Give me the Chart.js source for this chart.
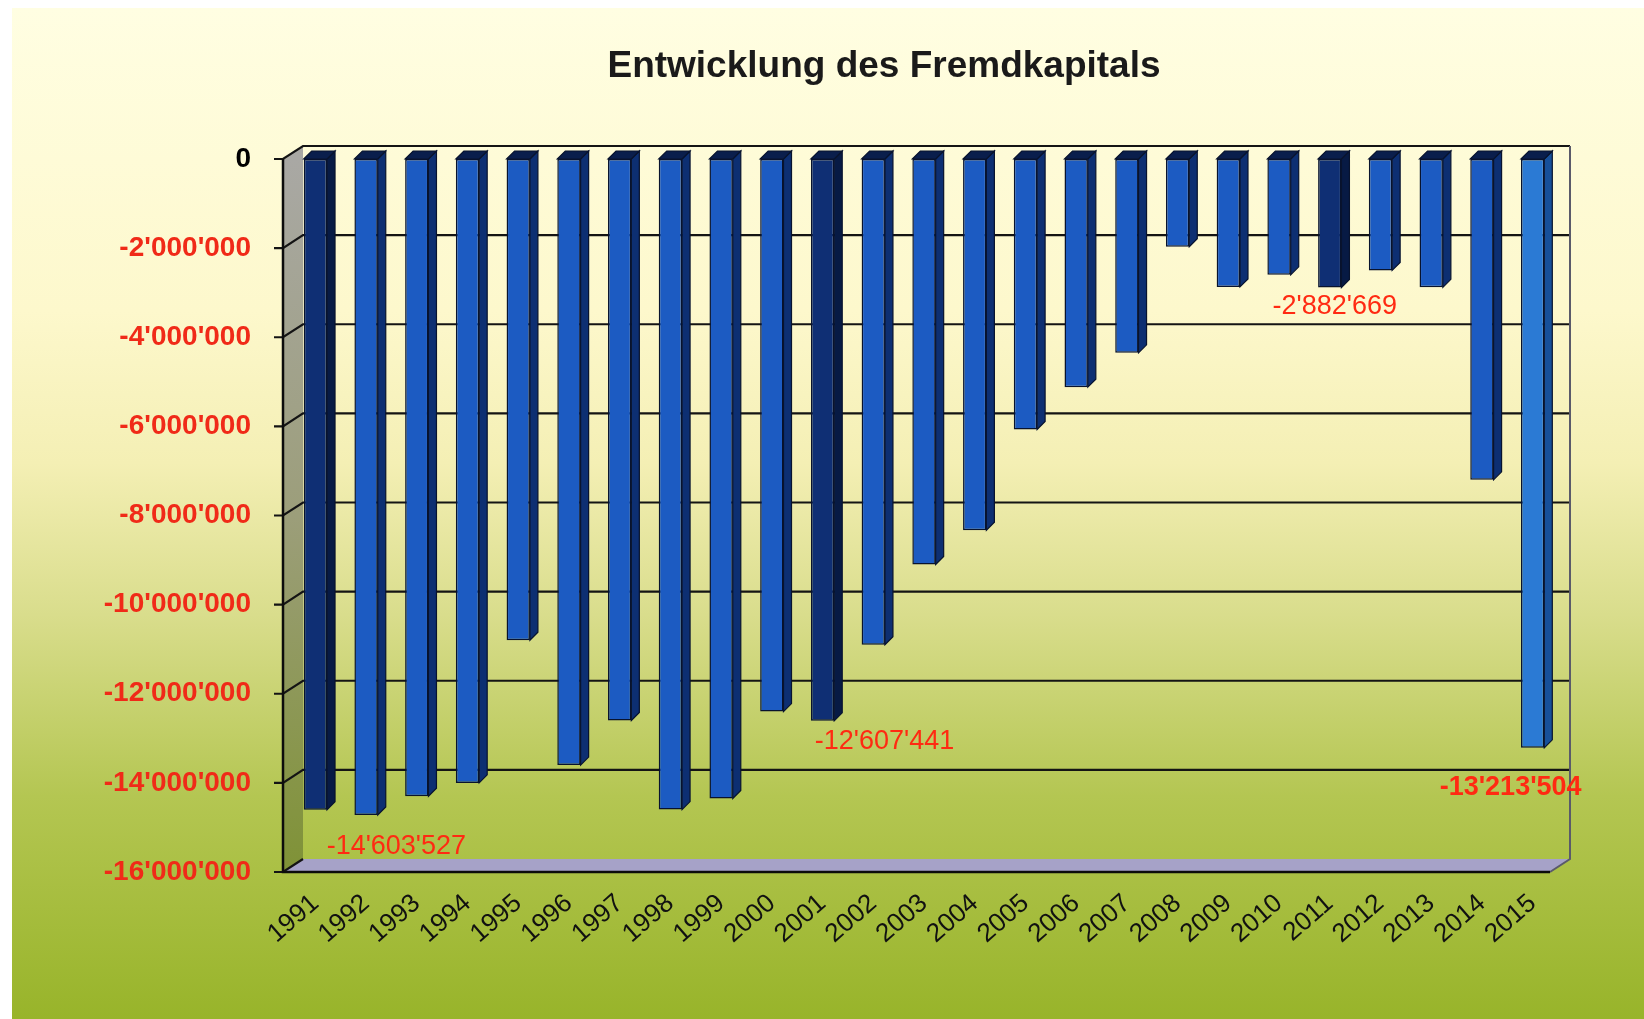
<!DOCTYPE html>
<html lang="de">
<head>
    <meta charset="UTF-8">
    <title>Entwicklung des Fremdkapitals</title>
    <script src="https://cdn.jsdelivr.net/npm/chart.js"></script>
    <style>
        body {
            margin: 0;
            background: #ffffff;
        }
        canvas {
            display: block;
        }
    </style>
</head>
<body>

    <canvas id="fkChart" width="1644" height="1019"></canvas>

    <script>
        // Data
        const years = ["1991", "1992", "1993", "1994", "1995", "1996", "1997", "1998", "1999", "2000",
                       "2001", "2002", "2003", "2004", "2005", "2006", "2007", "2008", "2009", "2010",
                       "2011", "2012", "2013", "2014", "2015"];
        const fremdkapital = [-14603527, -14720000, -14300000, -14000000, -10800000, -13600000, -12600000,
                              -14600000, -14350000, -12400000, -12607441, -10900000, -9100000, -8330000,
                              -6070000, -5120000, -4350000, -1970000, -2870000, -2600000, -2882669,
                              -2500000, -2880000, -7200000, -13213504];
        const highlighted = [0, 10, 20];      // dark bars
        const labelled = [0, 10, 20, 24];     // bars with a value label
        const yMin = -16000000;
        const yMax = 0;
        const yStep = 2000000;
        const chartTitle = "Entwicklung des Fremdkapitals";

        const FONT = "'Liberation Sans', Arial, sans-serif";

        function fmt(v) {
            const s = Math.abs(Math.round(v)).toString().replace(/\B(?=(\d{3})+(?!\d))/g, "'");
            return (v < 0 ? "-" : "") + s;
        }

        const barColors = fremdkapital.map((v, i) => {
            if (highlighted.includes(i)) return "#0f2f74";
            if (i === years.length - 1) return "#2b7ad4";
            return "#1c5bc2";
        });
        const sideColors = fremdkapital.map((v, i) => {
            if (highlighted.includes(i)) return "#071a44";
            if (i === years.length - 1) return "#17509a";
            return "#0d2f72";
        });

        // 3D-ish geometry
        const DX = 20, DY = 13;

        const backgroundPlugin = {
            id: "bg",
            beforeDraw(chart) {
                const ctx = chart.ctx;
                const w = chart.width, h = chart.height;
                ctx.save();
                ctx.fillStyle = "#ffffff";
                ctx.fillRect(0, 0, w, h);
                const g = ctx.createLinearGradient(0, 8, 0, h);
                g.addColorStop(0, "#fffee2");
                g.addColorStop(0.3, "#fdf8cc");
                g.addColorStop(0.45, "#f4efb4");
                g.addColorStop(0.6, "#d9dd8c");
                g.addColorStop(0.78, "#b4c652");
                g.addColorStop(1, "#98b42a");
                ctx.fillStyle = g;
                ctx.fillRect(12, 8, w - 12, h - 8);

                // title, centred over the picture as in the original
                ctx.fillStyle = "#1a1a1a";
                ctx.font = "bold 37px " + FONT;
                ctx.textAlign = "center";
                ctx.textBaseline = "middle";
                ctx.fillText(chartTitle, 884, 67);
                ctx.restore();
            }
        };

        const framePlugin = {
            id: "frame",
            beforeDatasetsDraw(chart) {
                const ctx = chart.ctx;
                const a = chart.chartArea;
                const y = chart.scales.y;
                const fx = a.left - 7;           // front axis x
                const bx = fx + DX;              // back wall x
                const rx = a.right + 12;         // back wall right
                const y0 = y.getPixelForValue(yMax);
                const yb = y.getPixelForValue(yMin);
                ctx.save();

                // left side wall
                const wg = ctx.createLinearGradient(0, y0, 0, yb);
                wg.addColorStop(0, "#a9a8a4");
                wg.addColorStop(0.5, "#9c9e7a");
                wg.addColorStop(1, "#7f9236");
                ctx.fillStyle = wg;
                ctx.beginPath();
                ctx.moveTo(fx, y0);
                ctx.lineTo(bx, y0 - DY);
                ctx.lineTo(bx, yb - DY);
                ctx.lineTo(fx, yb);
                ctx.closePath();
                ctx.fill();

                // floor
                ctx.fillStyle = "#a6a2c8";
                ctx.beginPath();
                ctx.moveTo(fx, yb);
                ctx.lineTo(bx, yb - DY);
                ctx.lineTo(rx, yb - DY);
                ctx.lineTo(rx - DX, yb);
                ctx.closePath();
                ctx.fill();

                // grid lines on back wall + diagonal on side wall + tick marks
                ctx.strokeStyle = "#141414";
                ctx.lineWidth = 2.2;
                y.ticks.forEach(t => {
                    const py = y.getPixelForValue(t.value);
                    ctx.beginPath();
                    ctx.moveTo(fx - 9, py);
                    ctx.lineTo(fx, py);
                    ctx.lineTo(bx, py - DY);
                    if (t.value !== yMin) ctx.lineTo(rx, py - DY);
                    ctx.stroke();
                });

                // right edge of back wall
                ctx.strokeStyle = "#5a5a6a";
                ctx.lineWidth = 2;
                ctx.beginPath();
                ctx.moveTo(rx, y0 - DY);
                ctx.lineTo(rx, yb - DY);
                ctx.lineTo(rx - DX, yb);
                ctx.stroke();

                // front axis and floor edge
                ctx.strokeStyle = "#0c0c0c";
                ctx.lineWidth = 2.5;
                ctx.beginPath();
                ctx.moveTo(fx, y0);
                ctx.lineTo(fx, yb);
                ctx.lineTo(rx - DX, yb);
                ctx.stroke();
                ctx.restore();
            },
            afterDatasetsDraw(chart) {
                const ctx = chart.ctx;
                const meta = chart.getDatasetMeta(0);
                const d = 8;
                ctx.save();
                ctx.strokeStyle = "#08132e";
                ctx.lineWidth = 1.2;
                meta.data.forEach((bar, i) => {
                    const half = bar.width / 2;
                    const xl = bar.x - half, xr = bar.x + half;
                    const top = bar.base, bot = bar.y;
                    // side face
                    ctx.fillStyle = sideColors[i];
                    ctx.beginPath();
                    ctx.moveTo(xr, top);
                    ctx.lineTo(xr + d, top - d);
                    ctx.lineTo(xr + d, bot - d);
                    ctx.lineTo(xr, bot);
                    ctx.closePath();
                    ctx.fill();
                    ctx.stroke();
                    // top cap
                    ctx.fillStyle = "#0a1e4c";
                    ctx.beginPath();
                    ctx.moveTo(xl, top);
                    ctx.lineTo(xl + d, top - d);
                    ctx.lineTo(xr + d, top - d);
                    ctx.lineTo(xr, top);
                    ctx.closePath();
                    ctx.fill();
                    ctx.stroke();
                });
                ctx.restore();
            }
        };

        // value labels, offsets relative to the bar end
        const labelPlugin = {
            id: "valueLabels",
            afterDraw(chart) {
                const ctx = chart.ctx;
                const meta = chart.getDatasetMeta(0);
                const offsets = { 0: [81, 37, false], 10: [62, 21, false], 20: [5, 19, false], 24: [-22, 40, true] };
                ctx.save();
                ctx.fillStyle = "#ff2a12";
                ctx.textAlign = "center";
                ctx.textBaseline = "middle";
                labelled.forEach(i => {
                    const bar = meta.data[i];
                    const [ox, oy, bold] = offsets[i];
                    ctx.font = (bold ? "bold " : "") + "27px " + FONT;
                    ctx.fillText(fmt(fremdkapital[i]), bar.x + ox, bar.y + oy);
                });
                ctx.restore();
            }
        };

        const ctx = document.getElementById("fkChart").getContext("2d");
        new Chart(ctx, {
            type: "bar",
            data: {
                labels: years,
                datasets: [{
                    data: fremdkapital,
                    backgroundColor: barColors,
                    borderColor: "#08132e",
                    borderWidth: 1.5,
                    borderSkipped: false,
                    barPercentage: 0.46,
                    categoryPercentage: 1.0
                }]
            },
            options: {
                responsive: false,
                animation: false,
                layout: {
                    padding: { left: 0, right: 86, top: 159, bottom: 0 }
                },
                plugins: {
                    legend: { display: false },
                    tooltip: { enabled: false },
                    title: { display: false }
                },
                scales: {
                    x: {
                        grid: { display: false, drawTicks: false },
                        border: { display: false },
                        ticks: {
                            color: "#111111",
                            font: { family: FONT, size: 26 },
                            minRotation: 41,
                            maxRotation: 41,
                            padding: 16,
                            autoSkip: false
                        },
                        afterFit(scale) { scale.height = 147; }
                    },
                    y: {
                        min: yMin,
                        max: yMax,
                        grid: { display: false, drawTicks: false },
                        border: { display: false },
                        ticks: {
                            stepSize: yStep,
                            padding: 39,
                            color: c => c.tick.value === 0 ? "#000000" : "#f02a18",
                            font: { family: FONT, size: 28, weight: "bold" },
                            callback: v => fmt(v)
                        },
                        afterFit(scale) { scale.width = 290; }
                    }
                }
            },
            plugins: [backgroundPlugin, framePlugin, labelPlugin]
        });
    </script>

</body>
</html>
